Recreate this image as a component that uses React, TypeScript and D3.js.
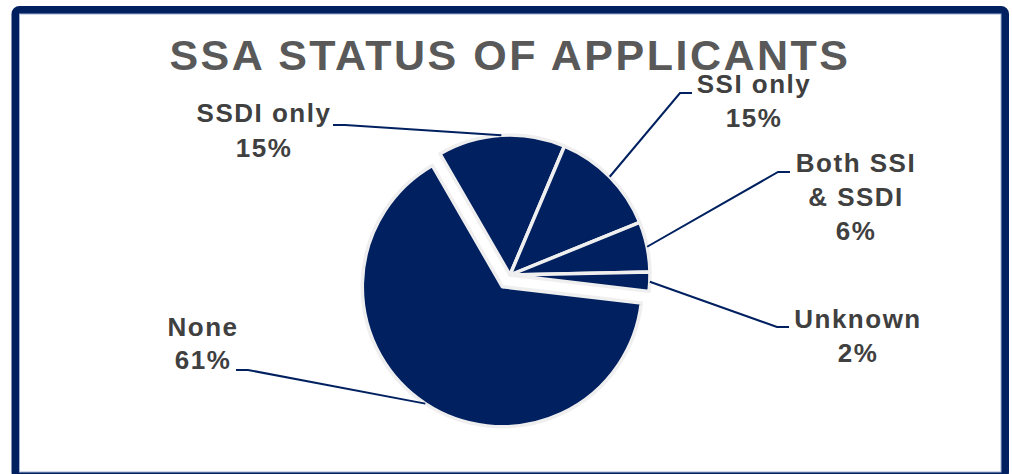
import React from "react";
import * as d3 from "d3";

// ---- data ----
const categories: string[] = ["SSDI only", "SSI only", "Both SSI & SSDI", "Unknown", "None"];
const values: number[] = [14.7, 12.5, 5.8, 2.2, 64.8];
const labelLines: string[][] = [
  ["SSDI only", "15%"],
  ["SSI only", "15%"],
  ["Both SSI", "& SSDI", "6%"],
  ["Unknown", "2%"],
  ["None", "61%"],
];
const explodedIndex = 4;
const titleText = "SSA STATUS OF APPLICANTS";

// ---- layout ----
const W = 1012;
const H = 474;
const CX = 510;
const CY = 275;
const R = 140;
const EXPLODE = 14;
const NAVY = "#002060";
// label anchor (center x, first baseline) and leader elbow positions
const labelPos: { x: number; y: number; ex: number; ey: number; side: number }[] = [
  { x: 264, y: 122, ex: 345, ey: 125, side: -1 },
  { x: 754, y: 93, ex: 680, ey: 93, side: 1 },
  { x: 856, y: 172, ex: 778, ey: 172, side: 1 },
  { x: 858, y: 328, ex: 777, ey: 327, side: 1 },
  { x: 203, y: 336, ex: 248, ey: 370, side: -1 },
];
const lineHeights = [35, 34, 34, 34, 33];

export default function App() {
  const pie = d3
    .pie<number>()
    .sort(null)
    .value((d) => d)
    .startAngle((-30 * Math.PI) / 180)
    .endAngle((330 * Math.PI) / 180);
  const arcs = pie(values);
  const arc = d3.arc<d3.PieArcDatum<number>>().innerRadius(0).outerRadius(R);
  const edge = d3.arc<d3.PieArcDatum<number>>().innerRadius(R).outerRadius(R);

  return (
    <svg
      width={W}
      height={H}
      style={{ position: "absolute", left: 0, top: 0, background: "#fff" }}
      fontFamily="'Liberation Sans', Arial, sans-serif"
    >
      <rect x={15.5} y={10} width={989.5} height={466} rx={4} fill="#fff" stroke={NAVY} strokeWidth={8} />
      <rect x={19.5} y={14} width={981.5} height={458} fill="none" stroke="#9fb0d0" strokeWidth={1} />
      <text
        x={CX}
        y={70}
        textAnchor="middle"
        fontSize={43}
        fontWeight="bold"
        fill="#595959"
        letterSpacing={2.5}
      >
        {titleText}
      </text>
      {arcs.map((a, i) => {
        const mid = (a.startAngle + a.endAngle) / 2;
        const off = i === explodedIndex ? EXPLODE : 0;
        const ox = CX + off * Math.sin(mid);
        const oy = CY - off * Math.cos(mid);
        return (
          <path
            key={categories[i]}
            d={arc(a) || ""}
            transform={`translate(${ox},${oy})`}
            fill={NAVY}
            stroke="#efefef"
            strokeWidth={3.5}
            strokeLinejoin="round"
          />
        );
      })}
      {arcs.map((a, i) => {
        const mid = (a.startAngle + a.endAngle) / 2;
        const off = i === explodedIndex ? EXPLODE : 0;
        const ox = CX + off * Math.sin(mid);
        const oy = CY - off * Math.cos(mid);
        const [px, py] = edge.centroid(a);
        const lp = labelPos[i];
        const endX = lp.ex + (lp.side < 0 ? -12 : 12);
        return (
          <polyline
            key={"l" + i}
            points={`${ox + px},${oy + py} ${lp.ex},${lp.ey} ${endX},${lp.ey}`}
            fill="none"
            stroke={NAVY}
            strokeWidth={2}
          />
        );
      })}
      {labelLines.map((lines, i) => (
        <text
          key={"t" + i}
          textAnchor="middle"
          fontSize={26}
          fontWeight="bold"
          fill="#404040"
          letterSpacing={1.5}
        >
          {lines.map((s, j) => (
            <tspan key={j} x={labelPos[i].x} y={labelPos[i].y + j * lineHeights[i]}>
              {s}
            </tspan>
          ))}
        </text>
      ))}
    </svg>
  );
}
